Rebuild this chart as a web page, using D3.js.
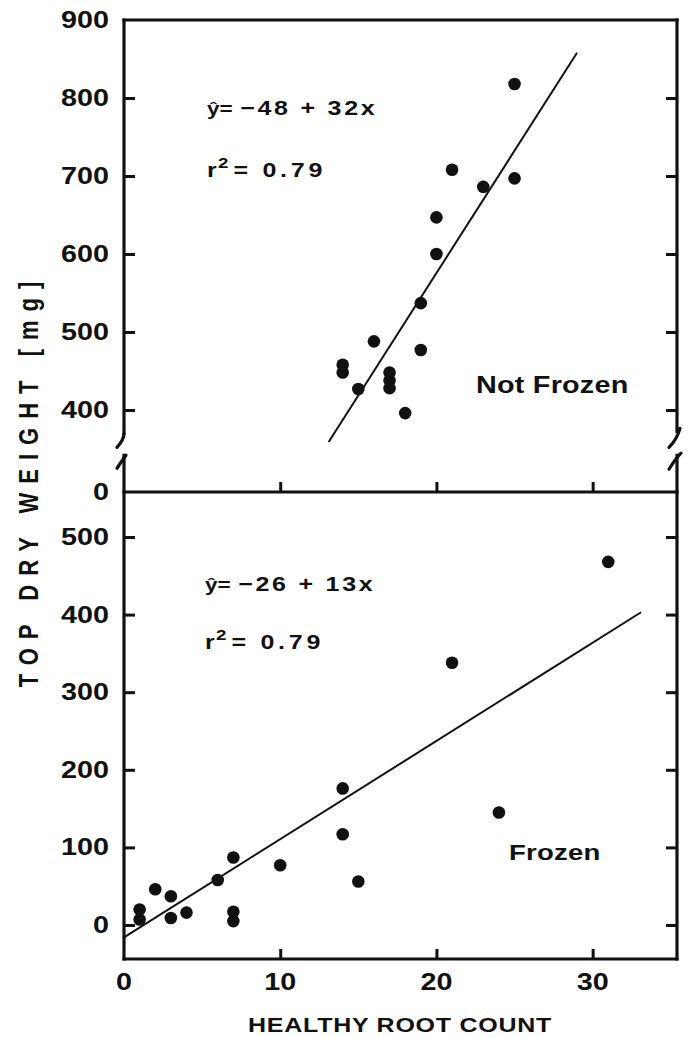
<!DOCTYPE html>
<html>
<head>
<meta charset="utf-8">
<script src="https://cdn.jsdelivr.net/npm/d3@7"></script>
<style>
  html, body { margin: 0; padding: 0; background: #fff; }
  svg { display: block; }
  text { font-family: "Liberation Sans", Arial, Helvetica, sans-serif; font-weight: bold; fill: #111; }
</style>
</head>
<body>
<svg id="chart" width="691" height="1038"></svg>
<script>
// ---------------- data ----------------
const xTicks = [0, 10, 20, 30];
const xTickLabels = ["0", "10", "20", "30"];
const yTopTicks = [400, 500, 600, 700, 800, 900];
const yTopTickLabels = ["400", "500", "600", "700", "800", "900"];
const yBotTicks = [0, 100, 200, 300, 400, 500];
const yBotTickLabels = ["0", "100", "200", "300", "400", "500"];
const topZeroLabel = "0";

// Not Frozen (top panel)
const notFrozenX = [14, 14, 15, 16, 17, 17, 17, 18, 19, 19, 20, 20, 21, 23, 25, 25];
const notFrozenY = [458, 448, 427, 488, 448, 438, 428, 396, 537, 477, 600, 647, 708, 686, 697, 818];
const notFrozenLineX = [13.1, 29.0];
const notFrozenLineY = [359, 858];

// Frozen (bottom panel)
const frozenX = [1, 1, 2, 3, 3, 4, 6, 7, 7, 7, 10, 14, 14, 15, 21, 24, 31];
const frozenY = [20, 7, 46, 37, 9, 16, 58, 87, 17, 5, 77, 176, 117, 56, 338, 145, 468];
const frozenLineX = [0, 33.1];
const frozenLineY = [-16, 403];

const xTitle = "HEALTHY ROOT COUNT";
const yTitle = "TOP DRY WEIGHT [mg]";
const topLabel = "Not Frozen";
const botLabel = "Frozen";
const topEqHat = "ŷ=";
const topEqRest = "−48 + 32x";
const botEqHat = "ŷ=";
const botEqRest = "−26 + 13x";
const r2Text = "= 0.79";

// ---------------- layout ----------------
const SX = 1.25;               // horizontal stretch of the original lettering
const fLeft = 124, fRight = 677;
const fTop = 20, fDivider = 492, fBottom = 959;

const svg = d3.select("#chart");
svg.append("rect").attr("width", 691).attr("height", 1038).attr("fill", "#fff");

const x = d3.scaleLinear().domain([0, 35.4]).range([fLeft, fRight]);
const yTop = d3.scaleLinear().domain([400, 900]).range([410, fTop]);
const yBot = d3.scaleLinear().domain([0, 500]).range([925, 537]);

const ink = "#111";

// ---------------- frame ----------------
const frame = svg.append("g").attr("fill", "none").attr("stroke", ink)
  .attr("stroke-width", 3.2).attr("stroke-linecap", "square");
const brkUp = yTop(370), brkLo = yTop(342);
frame.append("line").attr("x1", fLeft).attr("x2", fRight).attr("y1", fTop).attr("y2", fTop);
frame.append("line").attr("x1", fLeft).attr("x2", fRight).attr("y1", fDivider).attr("y2", fDivider);
frame.append("line").attr("x1", fLeft).attr("x2", fRight).attr("y1", fBottom).attr("y2", fBottom);
// left axis with break
frame.append("line").attr("x1", fLeft).attr("x2", fLeft).attr("y1", fTop).attr("y2", brkUp);
frame.append("line").attr("x1", fLeft).attr("x2", fLeft).attr("y1", brkLo).attr("y2", fBottom);
frame.append("path").attr("stroke-linecap", "round")
  .attr("d", `M${fLeft},${brkUp} Q${fLeft},${brkUp + 6} ${fLeft - 7},${brkUp + 14}`);
frame.append("path").attr("stroke-linecap", "round")
  .attr("d", `M${fLeft - 7},${brkLo + 13} Q${fLeft - 1},${brkLo + 4} ${fLeft + 2},${brkLo}`);
// right axis with break
frame.append("line").attr("x1", fRight).attr("x2", fRight).attr("y1", fTop).attr("y2", brkUp - 2);
frame.append("line").attr("x1", fRight).attr("x2", fRight).attr("y1", brkLo).attr("y2", fBottom);
frame.append("path").attr("stroke-linecap", "round")
  .attr("d", `M${fRight + 3},${brkUp - 5} Q${fRight},${brkUp + 6} ${fRight - 8},${brkUp + 14}`);
frame.append("path").attr("stroke-linecap", "round")
  .attr("d", `M${fRight - 8},${brkLo + 14} Q${fRight - 1},${brkLo + 3} ${fRight + 4},${brkLo - 2}`);

// ---------------- ticks via d3 axes ----------------
function styleAxis(g) {
  g.select(".domain").remove();
  g.selectAll(".tick line").attr("stroke", ink).attr("stroke-width", 3);
  g.selectAll(".tick text").remove();
}
svg.append("g").attr("transform", `translate(${fLeft},0)`)
  .call(d3.axisLeft(yTop).tickValues(yTopTicks.slice(0, 5)).tickSize(-11).tickFormat(""))
  .call(styleAxis);
svg.append("g").attr("transform", `translate(${fRight},0)`)
  .call(d3.axisRight(yTop).tickValues(yTopTicks.slice(0, 5)).tickSize(-11).tickFormat(""))
  .call(styleAxis);
svg.append("g").attr("transform", `translate(${fLeft},0)`)
  .call(d3.axisLeft(yBot).tickValues(yBotTicks).tickSize(-11).tickFormat(""))
  .call(styleAxis);
svg.append("g").attr("transform", `translate(${fRight},0)`)
  .call(d3.axisRight(yBot).tickValues(yBotTicks).tickSize(-11).tickFormat(""))
  .call(styleAxis);
svg.append("g").attr("transform", `translate(0,${fDivider})`)
  .call(d3.axisBottom(x).tickValues(xTicks.slice(1)).tickSize(-10).tickFormat(""))
  .call(styleAxis);
svg.append("g").attr("transform", `translate(0,${fBottom})`)
  .call(d3.axisBottom(x).tickValues(xTicks.slice(1)).tickSize(-10).tickFormat(""))
  .call(styleAxis);

// ---------------- tick labels ----------------
function stretchedText(parent, px, py, str, size, anchor, ls) {
  const g = parent.append("g").attr("transform", `translate(${px},${py}) scale(${SX},1)`);
  const t = g.append("text").attr("x", 0).attr("y", 0)
    .attr("font-size", size).attr("text-anchor", anchor || "start")
    .style("letter-spacing", (ls || 0) + "px").text(str);
  return t;
}
const labels = svg.append("g");
yTopTicks.forEach((v, i) => stretchedText(labels, 109, yTop(v) + 8, yTopTickLabels[i], 23, "end"));
stretchedText(labels, 109, fDivider + 8, topZeroLabel, 23, "end");
yBotTicks.forEach((v, i) => stretchedText(labels, 109, yBot(v) + 8, yBotTickLabels[i], 23, "end"));
xTicks.forEach((v, i) => stretchedText(labels, x(v), 990, xTickLabels[i], 23, "middle"));

// axis titles
stretchedText(labels, 400, 1032, xTitle, 20, "middle", 0.6);
{
  const g = svg.append("g").attr("transform", `translate(38,480) scale(${SX},1) rotate(-90)`);
  g.append("text").attr("text-anchor", "middle").attr("font-size", 22)
    .style("letter-spacing", "9px").text(yTitle);
}

// ---------------- regression lines ----------------
const line = (xs, ys, ys2) => d3.line().x(d => x(d[0])).y(d => ys2(d[1]))(xs.map((v, i) => [v, ys[i]]));
svg.append("path").attr("d", line(notFrozenLineX, notFrozenLineY, yTop))
  .attr("fill", "none").attr("stroke", ink).attr("stroke-width", 2);
svg.append("path").attr("d", line(frozenLineX, frozenLineY, yBot))
  .attr("fill", "none").attr("stroke", ink).attr("stroke-width", 2);

// ---------------- points ----------------
svg.append("g").selectAll("circle").data(notFrozenX.map((v, i) => [v, notFrozenY[i]]))
  .join("circle").attr("cx", d => x(d[0])).attr("cy", d => yTop(d[1])).attr("r", 6.3).attr("fill", ink);
svg.append("g").selectAll("circle").data(frozenX.map((v, i) => [v, frozenY[i]]))
  .join("circle").attr("cx", d => x(d[0])).attr("cy", d => yBot(d[1])).attr("r", 6.3).attr("fill", ink);

// ---------------- annotations ----------------
function equation(px, py, hat, rest) {
  const g = svg.append("g").attr("transform", `translate(${px},${py}) scale(${SX},1)`);
  const t = g.append("text").attr("font-size", 20);
  t.append("tspan").attr("font-size", 18).style("letter-spacing", "0px").text(hat);
  t.append("tspan").attr("dx", 6).style("letter-spacing", "2.2px").text(rest);
}
function r2(px, py) {
  const g = svg.append("g").attr("transform", `translate(${px},${py}) scale(${SX},1)`);
  const t = g.append("text").attr("font-size", 20);
  t.append("tspan").text("r");
  t.append("tspan").attr("font-size", 15).attr("dy", -9).attr("dx", 1).text("2");
  t.append("tspan").attr("dy", 9).attr("dx", 4).style("letter-spacing", "3px").text(r2Text);
}
equation(207, 115, topEqHat, topEqRest);
r2(207, 177);
equation(205, 591, botEqHat, botEqRest);
r2(205, 649);
stretchedText(svg, 476, 393, topLabel, 23, "start", 0.2);
stretchedText(svg, 509, 860, botLabel, 22, "start", 0.2);
</script>
</body>
</html>
